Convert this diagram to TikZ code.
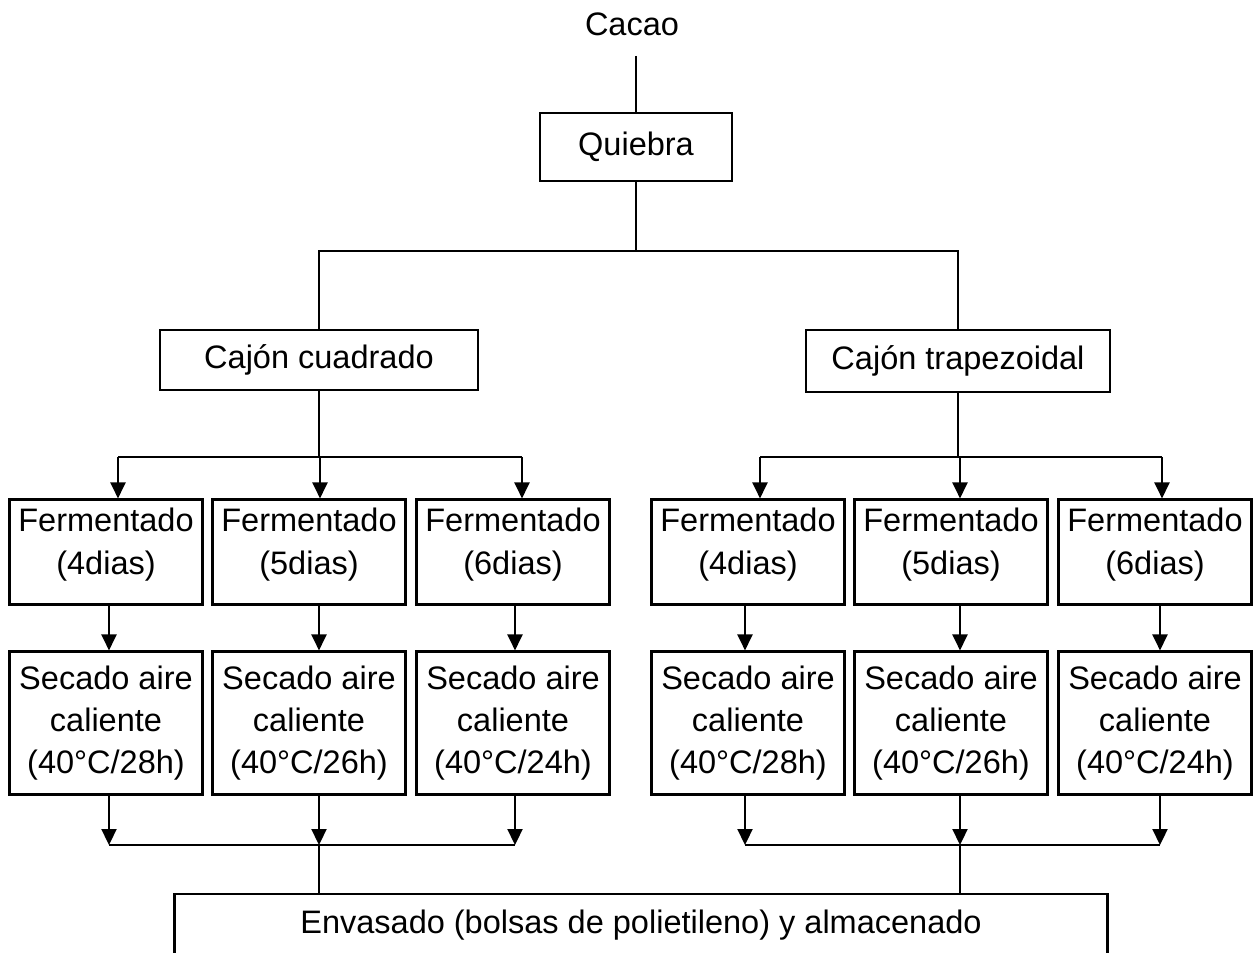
\documentclass[tikz,border=0pt]{standalone}
\usepackage{fontspec}
\setmainfont{Liberation Sans}
\usepackage{tikz}
\usetikzlibrary{arrows.meta}
\tikzset{
  box/.style={draw=black, line width=1.2pt, align=center, inner sep=0pt, font=\fontsize{18.5}{24}\selectfont},
  lab/.style={font=\fontsize{18.5}{24}\selectfont},
  fer/.style={minimum width=38.6mm, minimum height=21mm},
  sec/.style={minimum width=38.6mm, minimum height=28.6mm},
  line/.style={draw=black, line width=1.3pt},
  arr/.style={line, -{Triangle[length=3.2mm,width=3mm]}},
}

\begin{document}
\begin{tikzpicture}[x=0.2mm,y=-0.2mm]
  \useasboundingbox (0,0) rectangle (1260,953);
  \clip (0,0) rectangle (1260,953);
  \node[lab, inner ysep=4mm] (cacao) at (632,24) {Cacao};
  \node[box, minimum width=38.4mm, minimum height=13.6mm] (quiebra) at (636,147) {Quiebra};
  \node[box, minimum width=63.6mm, minimum height=12mm] (cuad) at (319,360) {Cajón cuadrado};
  \node[box, minimum width=60.8mm, minimum height=12.4mm] (trap) at (958,361) {Cajón trapezoidal};
  \node[box, anchor=north, minimum width=186.6mm, text height=7.8mm, text depth=20mm] (env) at (641,893)
    {Envasado (bolsas de polietileno) y almacenado};
  \coordinate (split) at (636,251);
  \draw[line] (quiebra.north |- cacao.south) -- (quiebra);
  \draw[line] (quiebra) -- (split);
  \draw[line] (cuad.north) |- (split) -| (trap.north);
  % columns: name / box centre / top arrow / lower arrows / days / hours
  \foreach \n/\x/\a/\b/\d/\h in {c1/106/118/109/4/28, c2/309/320/319/5/26, c3/513/522/515/6/24,
                                  t1/748/760/745/4/28, t2/951/960/960/5/26, t3/1155/1162/1160/6/24} {
    \node[box, fer] (f\n) at (\x,552) {Fermentado\\(\d dias)\\[-1.2ex]};
    \node[box, sec] (s\n) at (\x,723) {Secado aire\\caliente\\(40°C/\h h)};
    \coordinate (top\n) at (\a,457);
    \coordinate (low\n) at (\b,845);
    \draw[arr] (top\n) -- (top\n |- f\n.north);
    \draw[arr] (f\n.south -| low\n) -- (s\n.north -| low\n);
    \draw[arr] (s\n.south -| low\n) -- (low\n);
  }
  \draw[line] (cuad.south) -- (cuad.south |- topc2);
  \draw[line] (trap.south) -- (trap.south |- topt2);
  \draw[line] (topc1) -- (topc3);
  \draw[line] (topt1) -- (topt3);
  \draw[line] (lowc1) -- (lowc3);
  \draw[line] (lowt1) -- (lowt3);
  \draw[line] (lowc2) -- (lowc2 |- env.north);
  \draw[line] (lowt2) -- (lowt2 |- env.north);
\end{tikzpicture}
\end{document}
